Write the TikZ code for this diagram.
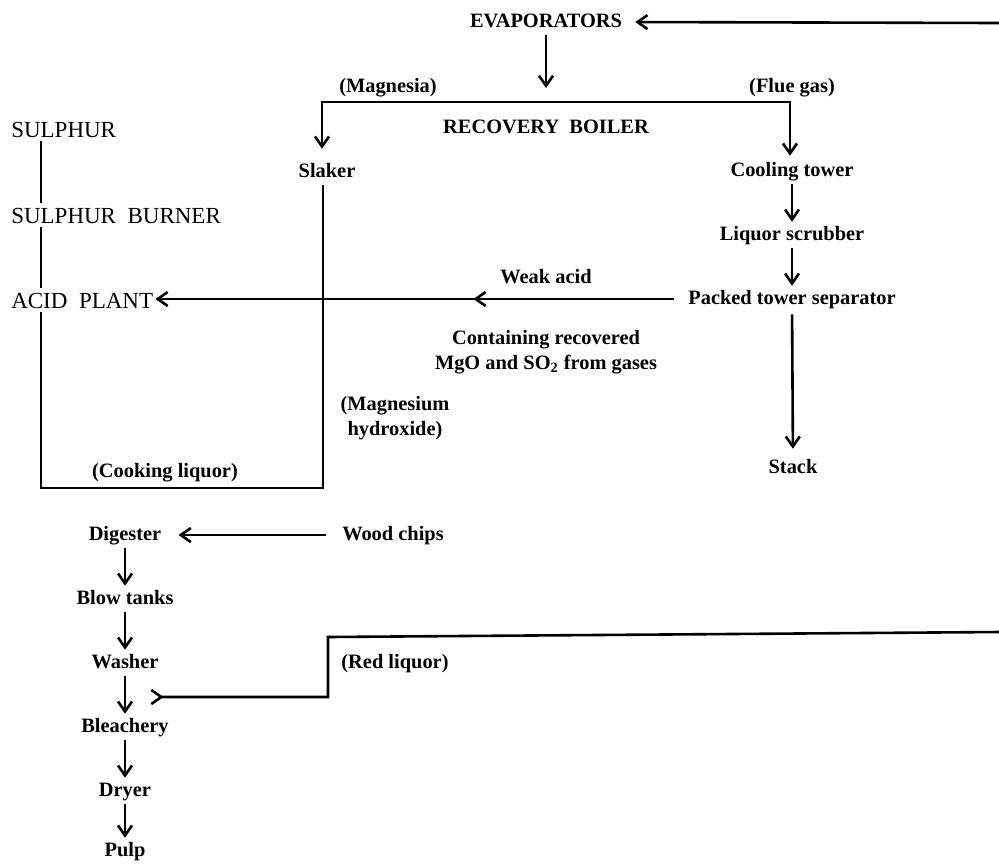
\documentclass[tikz,border=0pt]{standalone}
\usepackage{fontspec}
\setmainfont{Liberation Serif}
\usetikzlibrary{arrows.meta, positioning, decorations.markings}

\begin{document}
\begin{tikzpicture}[
    x=0.5pt, y=-0.5pt,
    line width=1.3pt,
    node distance=18.7pt,
    unitNode/.style={font=\bfseries\fontsize{10.2}{12}\selectfont, inner sep=1.5pt, text height=7pt, text depth=2pt},
    plantNode/.style={font=\fontsize{11.5}{13}\selectfont, inner sep=1.5pt, text height=8pt, text depth=0pt, anchor=west},
    noteNode/.style={font=\bfseries\fontsize{10.2}{12.5}\selectfont, align=center, inner sep=1.5pt},
    flowArrow/.style={-{Straight Barb[length=5pt, width=7pt]}},
    bothArrow/.style={{Straight Barb[length=5pt, width=7pt]}-{Straight Barb[length=5pt, width=7pt]}},
    tailArrow/.style={{Straight Barb[reversed, length=5pt, width=7pt]}-},
    midArrow/.style={postaction={decorate}, decoration={markings, mark=at position 0.4 with {\arrow{Straight Barb[length=5pt, width=7pt]}}}}
]
\useasboundingbox (0,0) rectangle (999,863);

% Recovery side
\node[unitNode] (evap) at (546,22) {EVAPORATORS};
\node[unitNode] (boiler) at (546,128) {RECOVERY~~BOILER};
\node[unitNode] (magnesia) at (388,87) {(Magnesia)};
\node[unitNode] (flue) at (792,87) {(Flue gas)};
\node[unitNode] (slaker) at (327,172) {Slaker};
\node[unitNode] (cool) at (792,171) {Cooling tower};
\node[unitNode, below=of cool] (scrub) {Liquor scrubber};
\node[unitNode, below=of scrub] (packed) {Packed tower separator};
\node[unitNode] (stack) at (793,468) {Stack};

\coordinate (evin) at (999,23);
\coordinate (bin) at (546,88);
\coordinate (bl) at (322,102);
\coordinate (br) at (790,102);

\draw[flowArrow, shorten >=4.5pt] (evin) -- (evap.east);
\draw[flowArrow] (evap) -- (bin);
\draw[bothArrow, shorten <=5pt, shorten >=1pt] (slaker.north -| bl) -- (bl) -- (br) -- (cool.north -| br);
\draw[flowArrow] (cool) -- (scrub);
\draw[flowArrow] (scrub) -- (packed);
\draw[flowArrow, shorten <=1pt, shorten >=3pt] (packed) -- (stack);

% Acid side
\node[plantNode] (sulphur) at (7,129) {SULPHUR};
\node[plantNode] (burner) at (7,215) {SULPHUR~~BURNER};
\node[plantNode] (acid) at (7,300) {ACID~~PLANT};

\coordinate (lc) at (41,488);
\coordinate (ck) at (323,488);

\draw (sulphur.south -| lc) -- (burner.north -| lc);
\draw (burner.south -| lc) -- (acid.north -| lc);
\draw (acid.south -| lc) -- (lc) -- (ck) -- (slaker.south -| ck);
\draw[flowArrow, midArrow, shorten <=5pt, shorten >=-1pt] (packed.west) -- (acid.east |- packed.west);

\node[unitNode] (weak) at (546,278) {Weak acid};
\node[noteNode] (contain) at (546,352) {Containing recovered\\MgO and SO\textsubscript{2} from gases};
\node[noteNode] (hydrox) at (395,418) {(Magnesium\\hydroxide)};
\node[unitNode] (cooking) at (165,472) {(Cooking liquor)};

% Pulp line
\node[unitNode] (digester) at (125,535) {Digester};
\node[unitNode] (wood) at (393,535) {Wood chips};
\node[unitNode, below=of digester] (blow) {Blow tanks};
\node[unitNode, below=of blow] (washer) {Washer};
\node[unitNode, below=of washer] (bleach) {Bleachery};
\node[unitNode, below=of bleach] (dryer) {Dryer};
\node[unitNode, below=16.7pt of dryer] (pulp) {Pulp};

\draw[flowArrow, shorten <=6pt, shorten >=6.5pt] (wood.west) -- (digester.east);
\draw[flowArrow] (digester) -- (blow);
\draw[flowArrow] (blow) -- (washer);
\draw[flowArrow] (washer) -- (bleach);
\draw[flowArrow] (bleach) -- (dryer);
\draw[flowArrow] (dryer) -- (pulp);

% Red liquor back to evaporators
\coordinate (rl1) at (150,697);
\coordinate (rl2) at (328,697);
\coordinate (rl3) at (328,637);
\coordinate (rl4) at (999,632);
\draw[tailArrow] (rl1) -- (rl2) -- (rl3) -- (rl4);
\node[unitNode] (red) at (395,663) {(Red liquor)};

\end{tikzpicture}
\end{document}
